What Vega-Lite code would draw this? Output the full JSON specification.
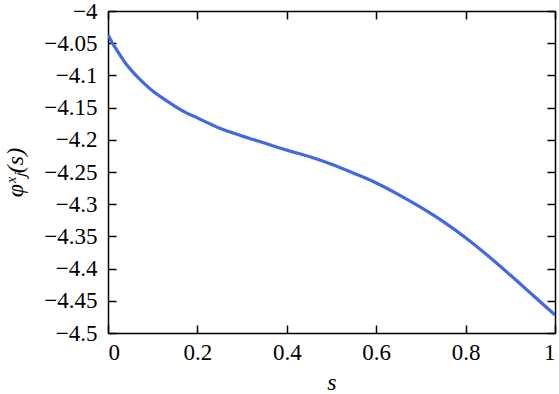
{
  "$schema": "https://vega.github.io/schema/vega-lite/v6.json",
  "width": 447,
  "height": 322,
  "autosize": {"type": "none"},
  "padding": {"left": 108, "top": 11, "right": 4, "bottom": 61},
  "background": "white",
  "config": {
    "font": "Liberation Serif",
    "view": {"stroke": null},
    "axis": {
      "grid": false,
      "domainColor": "black",
      "domainWidth": 1.5,
      "tickColor": "black",
      "tickWidth": 1.5,
      "tickSize": -8,
      "labelFontSize": 23,
      "labelColor": "black",
      "titleFontSize": 24,
      "titleFontWeight": "normal",
      "titleColor": "black",
      "format": "~g"
    }
  },
  "data": {
    "values": [
      {"s": 0.0, "phi": -4.037},
      {"s": 0.01, "phi": -4.05},
      {"s": 0.02, "phi": -4.061},
      {"s": 0.038, "phi": -4.08},
      {"s": 0.06, "phi": -4.098},
      {"s": 0.083, "phi": -4.114},
      {"s": 0.105, "phi": -4.127},
      {"s": 0.128, "phi": -4.138},
      {"s": 0.15, "phi": -4.148},
      {"s": 0.172, "phi": -4.157},
      {"s": 0.2, "phi": -4.166},
      {"s": 0.25, "phi": -4.182},
      {"s": 0.3, "phi": -4.194},
      {"s": 0.35, "phi": -4.205},
      {"s": 0.4, "phi": -4.216},
      {"s": 0.45, "phi": -4.226},
      {"s": 0.5, "phi": -4.238},
      {"s": 0.55, "phi": -4.252},
      {"s": 0.6, "phi": -4.267},
      {"s": 0.65, "phi": -4.285},
      {"s": 0.7, "phi": -4.305},
      {"s": 0.75, "phi": -4.327},
      {"s": 0.8, "phi": -4.352},
      {"s": 0.85, "phi": -4.38},
      {"s": 0.9, "phi": -4.41},
      {"s": 0.95, "phi": -4.441},
      {"s": 1.0, "phi": -4.472}
    ]
  },
  "layer": [
    {
      "mark": {"type": "line", "color": "#4169E1", "strokeWidth": 3.2, "interpolate": "monotone", "clip": true},
      "encoding": {
        "x": {"field": "s", "type": "quantitative", "scale": {"domain": [0, 1], "nice": false},
          "axis": {"orient": "bottom", "values": [0, 0.2, 0.4, 0.6, 0.8, 1], "title": "s", "titleFont": "Liberation Serif", "labelFont": "Liberation Serif", "titleFontStyle": "italic", "labelPadding": 16, "titlePadding": 6}},
        "y": {"field": "phi", "type": "quantitative", "scale": {"domain": [-4.5, -4], "nice": false, "zero": false},
          "axis": {"orient": "left", "values": [-4.5, -4.45, -4.4, -4.35, -4.3, -4.25, -4.2, -4.15, -4.1, -4.05, -4], "title": "φˣⱼ(s)", "titleFont": "Liberation Serif", "labelFont": "Liberation Serif", "titleFontStyle": "italic", "labelPadding": 19, "titlePadding": 16}}
      }
    },
    {
      "mark": {"type": "line", "opacity": 0, "clip": true},
      "encoding": {
        "x": {"field": "s", "type": "quantitative", "scale": {"domain": [0, 1], "nice": false},
          "axis": {"orient": "top", "values": [0, 0.2, 0.4, 0.6, 0.8, 1], "labels": false, "title": null}},
        "y": {"field": "phi", "type": "quantitative", "scale": {"domain": [-4.5, -4], "nice": false, "zero": false},
          "axis": {"orient": "right", "values": [-4.5, -4.45, -4.4, -4.35, -4.3, -4.25, -4.2, -4.15, -4.1, -4.05, -4], "labels": false, "title": null}}
      }
    }
  ],
  "resolve": {"axis": {"x": "independent", "y": "independent"}}
}
